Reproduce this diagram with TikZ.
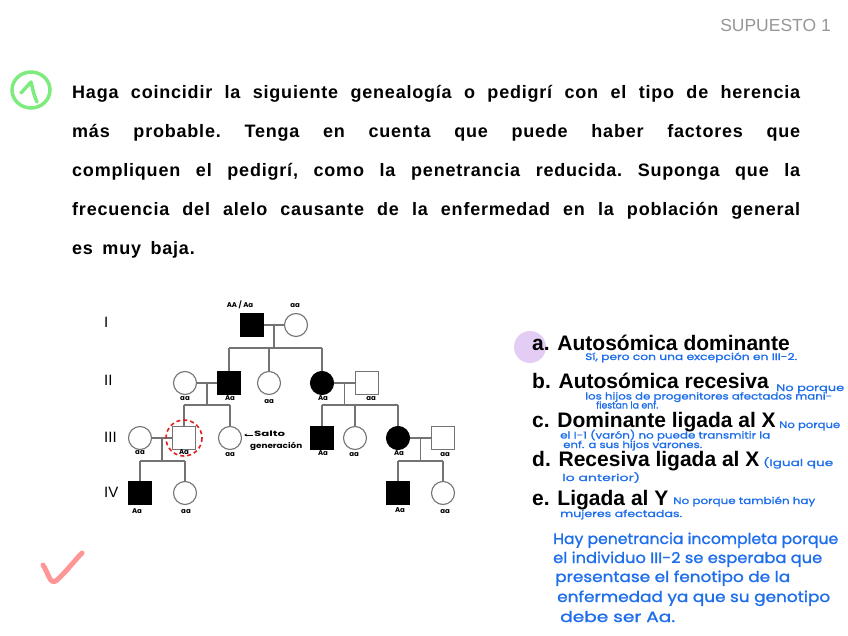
\documentclass[tikz,border=0pt]{standalone}
\usepackage{fontspec}
\usepackage{graphicx}
\setmainfont{Liberation Sans}
\newfontfamily\titlefont[LetterSpace=4.4]{Liberation Sans}
\newfontfamily\hwfont{Poppins}
\newfontfamily\hwink[FakeBold=1.2]{Poppins}
\usetikzlibrary{arrows.meta}
\definecolor{pedgray}{RGB}{115,115,115}
\definecolor{inkblue}{RGB}{30,110,235}
\definecolor{supgray}{RGB}{150,150,150}
\definecolor{markgreen}{RGB}{125,235,125}
\definecolor{markpink}{RGB}{255,150,150}
\definecolor{markpurple}{RGB}{228,205,245}
\definecolor{markred}{RGB}{225,30,30}
\newdimen\hwlen
\newcommand\fitw[2]{\settowidth\hwlen{#2}\scalebox{\fpeval{#1/\hwlen}}[1]{#2}}
\tikzset{
  ped/.style={draw=pedgray, line width=1.1pt, minimum size=23pt, inner sep=0pt},
  msq/.style={ped, rectangle},
  fci/.style={ped, circle},
  aff/.style={fill=black, draw=black},
  rel/.style={draw=pedgray, line width=1.1pt},
  geno/.style={font=\hwfont\bfseries\fontsize{7}{8}\selectfont, inner sep=0pt, anchor=base},
  genlab/.style={font=\fontsize{15}{18}\selectfont, inner sep=0pt, anchor=base west},
  answer/.style={font=\fontsize{21}{25}\selectfont\bfseries, inner sep=0pt, anchor=base west},
  note/.style={font=\hwink\fontsize{9.5}{11}\selectfont, text=inkblue, inner sep=0pt, anchor=base west},
  bignote/.style={font=\hwink\fontsize{15}{18}\selectfont, text=inkblue, inner sep=0pt, anchor=base west},
}
\begin{document}
\begin{tikzpicture}[x=1pt,y=-1pt]
\useasboundingbox (0,0) rectangle (848,636);

% header
\node[font=\fontsize{17.5}{20}\selectfont, text=supgray, inner sep=0pt, anchor=base east] (sup) at (831,32) {SUPUESTO 1};

% green circled 1
\draw[markgreen, line width=3.5pt] (31,90) ellipse [x radius=19, y radius=18];
\draw[markgreen, line width=3.5pt, line cap=round, line join=round] (21,93) -- (31,82) .. controls (33,90) and (34,96) .. (37,102);

% question
\node[inner sep=0pt, anchor=base west] (question) at (72,98.5) {\parbox[t]{728pt}{\titlefont\bfseries\fontsize{18}{38.9}\selectfont\frenchspacing\spaceskip=9.5pt plus 30pt minus 1pt
Haga coincidir la siguiente genealogía o pedigrí con el tipo de herencia\linebreak
más probable. Tenga en cuenta que puede haber factores que\linebreak
compliquen el pedigrí, como la penetrancia reducida. Suponga que la\linebreak
frecuencia del alelo causante de la enfermedad en la población general\linebreak
es muy baja.}};

% generation labels
\node[genlab] (gI) at (104,327.5) {I};
\node[genlab] (gII) at (104,385.5) {II};
\node[genlab] (gIII) at (104,442.5) {III};
\node[genlab] (gIV) at (104,497.5) {IV};

% pedigree individuals
\node[msq, aff] (I1) at (252,325) {};
\node[fci] (I2) at (296,325) {};

\node[fci] (II1) at (185,383) {};
\node[msq, aff] (II2) at (229,383) {};
\node[fci] (II3) at (269,383) {};
\node[fci, aff] (II4) at (322,383) {};
\node[msq] (II5) at (367,383) {};

\node[fci] (III1) at (140,438) {};
\node[msq] (III2) at (184,438) {};
\node[fci] (III3) at (230,438) {};
\node[msq, aff] (III4) at (322,438) {};
\node[fci] (III5) at (355,438) {};
\node[fci, aff] (III6) at (398,438) {};
\node[msq] (III7) at (443,438) {};

\node[msq, aff] (IV1) at (140,493) {};
\node[fci] (IV2) at (185,493) {};
\node[msq, aff] (IV3) at (398,493) {};
\node[fci] (IV4) at (443,493) {};

% relationships
\coordinate (mI) at (274,325);  \coordinate (sI) at (274,348);
\coordinate (mII1) at (207,383); \coordinate (sII1) at (207,405);
\coordinate (mII2) at (344.5,383); \coordinate (sII2) at (344.5,405);
\coordinate (mIII1) at (162,438); \coordinate (sIII1) at (162,461);
\coordinate (mIII2) at (420.5,438); \coordinate (sIII2) at (420.5,461);

\draw[rel] (I1) -- (I2);
\draw[rel] (mI) -- (sI);
\draw[rel] (II2 |- sI) -- (II4 |- sI);
\draw[rel] (II2 |- sI) -- (II2);
\draw[rel] (II3 |- sI) -- (II3);
\draw[rel] (II4 |- sI) -- (II4);

\draw[rel] (II1) -- (II2);
\draw[rel] (mII1) -- (sII1);
\draw[rel] (III2 |- sII1) -- (III3 |- sII1);
\draw[rel] (III2 |- sII1) -- (III2);
\draw[rel] (III3 |- sII1) -- (III3);

\draw[rel] (II4) -- (II5);
\draw[rel] (mII2) -- (sII2);
\draw[rel] (III4 |- sII2) -- (III6 |- sII2);
\draw[rel] (III4 |- sII2) -- (III4);
\draw[rel] (III5 |- sII2) -- (III5);
\draw[rel] (III6 |- sII2) -- (III6);

\draw[rel] (III1) -- (III2);
\draw[rel] (mIII1) -- (sIII1);
\draw[rel] (IV1 |- sIII1) -- (IV2 |- sIII1);
\draw[rel] (IV1 |- sIII1) -- (IV1);
\draw[rel] (IV2 |- sIII1) -- (IV2);

\draw[rel] (III6) -- (III7);
\draw[rel] (mIII2) -- (sIII2);
\draw[rel] (IV3 |- sIII2) -- (IV4 |- sIII2);
\draw[rel] (IV3 |- sIII2) -- (IV3);
\draw[rel] (IV4 |- sIII2) -- (IV4);

% red dashed mark around III-2
\draw[markred, line width=1.6pt, dash pattern=on 4pt off 3pt] (III2.center) circle [radius=18];

% genotypes
\node[geno] (gtI1) at (240,307) {AA / Aa};
\node[geno] (gtI2) at (295,307) {aa};
\node[geno] (gtII1) at (185,400) {aa};
\node[geno] (gtII2) at (230,400) {Aa};
\node[geno] (gtII3) at (269,403) {aa};
\node[geno] (gtII4) at (323,400) {Aa};
\node[geno] (gtII5) at (371,400) {aa};
\node[geno] (gtIII1) at (140,454) {aa};
\node[geno] (gtIII2) at (184,454) {Aa};
\node[geno] (gtIII3) at (230,456) {aa};
\node[geno] (gtIII4) at (323,455) {Aa};
\node[geno] (gtIII5) at (354,456) {aa};
\node[geno] (gtIII6) at (399,455) {Aa};
\node[geno] (gtIII7) at (445,456) {aa};
\node[geno] (gtIV1) at (137,513) {Aa};
\node[geno] (gtIV2) at (186,513) {aa};
\node[geno] (gtIV3) at (400,512) {Aa};
\node[geno] (gtIV4) at (445,513) {aa};

% salto generacion
\node[font=\hwfont\bfseries\fontsize{7.5}{9}\selectfont, inner sep=0pt, anchor=base west] (salto) at (254,436) {\fitw{31}{Salto}};
\node[font=\hwfont\bfseries\fontsize{7.5}{9}\selectfont, inner sep=0pt, anchor=base west] (gen) at (250,448) {\fitw{52}{generación}};
\coordinate (arrstart) at (253,435);
\draw[line width=1pt, -{Stealth[length=3pt,width=3pt]}, shorten >=2pt] (arrstart) -- (III3.east |- arrstart);

% answer options
\fill[markpurple] (530,347) circle [radius=16];
\node[answer] (ansa) at (532,350) {a. Autosómica dominante};
\node[answer] (ansb) at (532,388.8) {b. Autosómica recesiva};
\node[answer] (ansc) at (532,427.6) {c. Dominante ligada al X};
\node[answer] (ansd) at (532,466.4) {d. Recesiva ligada al X};
\node[answer] (anse) at (532,505.2) {e. Ligada al Y};

% handwritten notes
\node[note] (na) at (585,360) {\fitw{212}{Sí, pero con una excepción en III-2.}};
\node[note] (nb1) at (776,391) {\fitw{68}{No porque}};
\node[note] (nb2) at (585,399.5) {\fitw{247}{los hijos de progenitores afectados mani-}};
\node[note] (nb3) at (596,408.5) {\fitw{62}{fiestan la enf.}};
\node[note] (nc1) at (779,428) {\fitw{61}{No porque}};
\node[note] (nc2) at (560,438.5) {\fitw{210}{el I-1 (varón) no puede transmitir la}};
\node[note] (nc3) at (563,448) {\fitw{139}{enf. a sus hijos varones.}};
\node[note] (nd1) at (763,466) {\fitw{70}{(Igual que}};
\node[note] (nd2) at (562,481) {\fitw{78}{lo anterior)}};
\node[note] (ne1) at (673,504) {\fitw{142}{No porque también hay}};
\node[note] (ne2) at (560,517) {\fitw{122}{mujeres afectadas.}};

\node[bignote] (p1) at (553,544) {\fitw{285}{Hay penetrancia incompleta porque}};
\node[bignote] (p2) at (553,563) {\fitw{269}{el individuo III-2 se esperaba que}};
\node[bignote] (p3) at (555,582) {\fitw{235}{presentase el fenotipo de la}};
\node[bignote] (p4) at (557,602) {\fitw{273}{enfermedad ya que su genotipo}};
\node[bignote] (p5) at (560,622) {\fitw{115}{debe ser Aa.}};

% pink check mark
\draw[markpink, line width=5pt, line cap=round, line join=round] (43,565) .. controls (49,574) and (50,586) .. (57,580) .. controls (66,572) and (75,560) .. (82,553);
\end{tikzpicture}
\end{document}
